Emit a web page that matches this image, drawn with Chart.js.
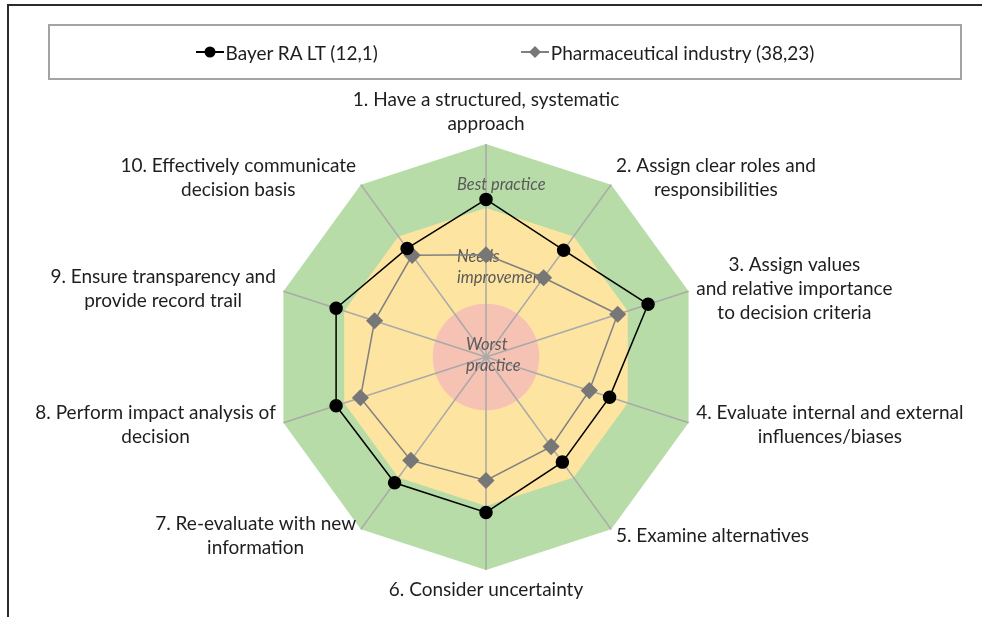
<!DOCTYPE html>
<html>
<head>
<meta charset="utf-8">
<script src="https://cdn.jsdelivr.net/npm/chart.js@4.4.1/dist/chart.umd.min.js"></script>
<style>
    html, body { margin: 0; padding: 0; background: #fff; }
    #wrap { position: relative; width: 982px; height: 617px; overflow: hidden; font-family: Lato, sans-serif; }
    #frame { position: absolute; left: 7px; top: 4px; right: -4px; bottom: -4px; border-top: 2px solid #2b2b2b; border-left: 2px solid #2b2b2b; }
    #legend { position: absolute; left: 48px; top: 24px; width: 910px; height: 52px; border: 2px solid #a3a3a3; display: flex; align-items: center; justify-content: center; gap: 143px; font-size: 19px; color: #1e1e1e; }
    .legend-item { display: flex; align-items: center; white-space: nowrap; }
    .legend-item svg { margin-right: 2px; }
    canvas { position: absolute; left: 0; top: 0; }
</style>
</head>
<body>
<div id="wrap">
    <canvas id="radarChart" width="982" height="617"></canvas>
    <div id="frame"></div>
    <div id="legend"></div>
</div>
<script>
// Axis labels (one array entry per spoke, lines split for wrapping)
const categories = [
    ['1. Have a structured, systematic', 'approach'],
    ['2. Assign clear roles and', 'responsibilities'],
    ['3. Assign values', 'and relative importance', 'to decision criteria'],
    ['4. Evaluate internal and external', 'influences/biases'],
    ['5. Examine alternatives'],
    ['6. Consider uncertainty'],
    ['7. Re-evaluate with new', 'information'],
    ['8. Perform impact analysis of', 'decision'],
    ['9. Ensure transparency and', 'provide record trail'],
    ['10. Effectively communicate', 'decision basis']
];

// Series values (0 = centre, 100 = outer edge)
const bayerValues = [74, 62, 80, 61, 61, 73, 73, 74, 74, 63];
const pharmaValues = [48, 46, 65, 51, 52, 58, 60, 62, 55, 59];

const seriesNames = ['Bayer RA LT (12,1)', 'Pharmaceutical industry (38,23)'];

// Background zones: best practice polygon, needs improvement polygon, worst practice circle
const zoneLevels = [100, 70, 25];
const zoneColors = ['#b7dca7', '#fde4a1', '#f6c2b3'];
const zoneNames = [['Best practice'], ['Needs', 'improvement'], ['Worst', 'practice']];
const zoneNameLevels = [81, 42, 1];

const labelFont = '19px Lato';
const labelLineHeight = 24;

// Draw the coloured zones behind the spokes, zone names, and centred spoke labels
const radarDecor = {
    id: 'radarDecor',
    beforeDraw(chart) {
        const scale = chart.scales.r;
        const ctx = chart.ctx;
        const n = categories.length;
        ctx.save();
        for (let z = 0; z < 2; z++) {
            ctx.beginPath();
            for (let i = 0; i < n; i++) {
                const p = scale.getPointPositionForValue(i, zoneLevels[z]);
                if (i === 0) ctx.moveTo(p.x, p.y);
                else ctx.lineTo(p.x, p.y);
            }
            ctx.closePath();
            ctx.fillStyle = zoneColors[z];
            ctx.fill();
        }
        ctx.beginPath();
        ctx.arc(scale.xCenter, scale.yCenter, scale.getDistanceFromCenterForValue(zoneLevels[2]), 0, Math.PI * 2);
        ctx.fillStyle = zoneColors[2];
        ctx.fill();
        ctx.restore();
    },
    beforeDatasetsDraw(chart) {
        const scale = chart.scales.r;
        const ctx = chart.ctx;
        ctx.save();
        ctx.font = 'italic 16.5px Lato';
        ctx.fillStyle = '#5a5a5a';
        ctx.textAlign = 'left';
        ctx.textBaseline = 'middle';
        const offsets = [-29, -29, -20];
        zoneNames.forEach((lines, z) => {
            const p = scale.getPointPositionForValue(0, zoneNameLevels[z]);
            const lh = 21;
            const y0 = p.y - (lines.length - 1) * lh / 2;
            lines.forEach((line, k) => ctx.fillText(line, p.x + offsets[z], y0 + k * lh));
        });
        ctx.restore();
    },
    afterDraw(chart) {
        const scale = chart.scales.r;
        const ctx = chart.ctx;
        const gap = 8;
        ctx.save();
        ctx.font = labelFont;
        ctx.fillStyle = '#1e1e1e';
        ctx.textAlign = 'center';
        ctx.textBaseline = 'middle';
        categories.forEach((lines, i) => {
            const p = scale.getPointPosition(i, scale.drawingArea + gap);
            const angle = scale.getIndexAngle(i);
            const s = Math.sin(angle);
            const c = Math.cos(angle);
            const w = Math.max(...lines.map(l => ctx.measureText(l).width));
            const h = lines.length * labelLineHeight;
            let cx = p.x;
            if (s > 0.1) cx = p.x + w / 2;
            else if (s < -0.1) cx = p.x - w / 2;
            let top = p.y - h / 2;
            if (c > 0.95) top = p.y - h;
            else if (c < -0.95) top = p.y;
            lines.forEach((line, k) => ctx.fillText(line, cx, top + labelLineHeight / 2 + k * labelLineHeight));
        });
        ctx.restore();
    }
};

// Legend built in HTML from the chart's datasets
const htmlLegend = {
    id: 'htmlLegend',
    afterUpdate(chart) {
        const box = document.getElementById('legend');
        box.innerHTML = '';
        chart.data.datasets.forEach(ds => {
            const item = document.createElement('div');
            item.className = 'legend-item';
            const marker = ds.pointStyle === 'rectRot'
                ? `<polygon points="14,1 20,7 14,13 8,7" fill="${ds.pointBackgroundColor}"/>`
                : `<circle cx="14" cy="7" r="5.5" fill="${ds.pointBackgroundColor}"/>`;
            item.innerHTML = `
                <svg width="28" height="14"><line x1="0" y1="7" x2="28" y2="7" stroke="${ds.borderColor}" stroke-width="2"/>${marker}</svg>
                <span>${ds.label}</span>
            `;
            box.appendChild(item);
        });
    }
};

new Chart(document.getElementById('radarChart'), {
    type: 'radar',
    data: {
        labels: categories,
        datasets: [
            {
                label: seriesNames[0],
                data: bayerValues,
                borderColor: '#000000',
                borderWidth: 1.5,
                pointBackgroundColor: '#000000',
                pointBorderColor: '#000000',
                pointRadius: 6,
                fill: false
            },
            {
                label: seriesNames[1],
                data: pharmaValues,
                borderColor: '#808080',
                borderWidth: 1.5,
                pointStyle: 'rectRot',
                pointBackgroundColor: '#777777',
                pointBorderColor: '#777777',
                pointRadius: 7.5,
                fill: false
            }
        ]
    },
    options: {
        responsive: false,
        animation: false,
        devicePixelRatio: 1,
        layout: { padding: { top: 144, bottom: 47, left: 0, right: 9 } },
        plugins: {
            legend: { display: false },
            tooltip: { enabled: false }
        },
        scales: {
            r: {
                min: 0,
                max: 100,
                ticks: { display: false },
                grid: { display: false },
                angleLines: { color: '#a9a9a9', lineWidth: 1.5 },
                pointLabels: { display: false }
            }
        }
    },
    plugins: [radarDecor, htmlLegend]
});
</script>
</body>
</html>
